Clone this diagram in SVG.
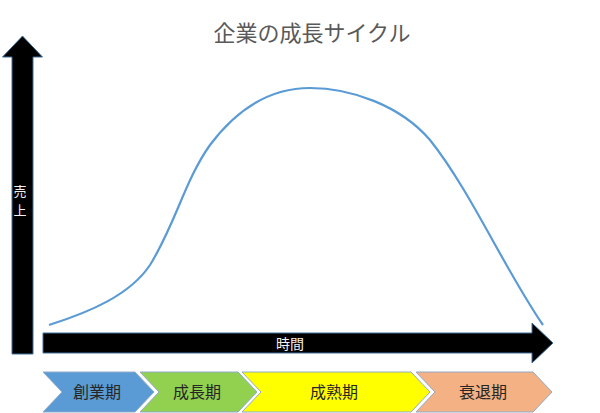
<svg xmlns="http://www.w3.org/2000/svg" width="600" height="413" viewBox="0 0 600 413">
<style>
text{font-family:"Noto Sans CJK JP","Noto Sans CJK SC",sans-serif;}
.axis{fill:#000;stroke:#41719C;stroke-width:1;}
.axlbl{fill:#F2F2F2;font-size:14px;text-anchor:middle;}
.vlbl{fill:#F2F2F2;font-size:13px;text-anchor:middle;}
.phase{stroke:#8FAAC8;stroke-width:1;}
.plbl{fill:#262626;font-size:16px;text-anchor:middle;}
</style>
<rect width="600" height="413" fill="#fff"/>
<g id="title"><text x="312" y="41" font-size="22" fill="#595959" text-anchor="middle">企業の成長サイクル</text></g>
<g id="y-axis">
<polygon class="axis" points="12,354 12,57 2.5,57 22.5,36 42.5,57 33,57 33,354"/>
<text class="vlbl" x="20" y="196">売</text>
<text class="vlbl" x="20" y="215">上</text>
</g>
<g id="x-axis">
<polygon class="axis" points="43,333 532,333 532,323 553,343 532,363 532,353 43,353"/>
<text class="axlbl" x="290" y="349">時間</text>
</g>
<g id="connectors">
<path d="M49,325 C90,312 130,295 150,265 C175,225 185,180 210,145 C240,105 275,88 310,88 C350,88 400,105 430,140 C470,190 505,270 543,325" fill="none" stroke="#5B9BD5" stroke-width="2.2"/>
</g>
<g id="phase-1"><polygon class="phase" fill="#5B9BD5" points="43,372 135,372 154,392 135,412 43,412 62,392"/><text class="plbl" x="97" y="398">創業期</text></g>
<g id="phase-2"><polygon class="phase" fill="#92D050" points="140,372 238,372 257,392 238,412 140,412 159,392"/><text class="plbl" x="197" y="398">成長期</text></g>
<g id="phase-3"><polygon class="phase" fill="#FFFF00" points="242,372 411,372 430,392 411,412 242,412 261,392"/><text class="plbl" x="334" y="398">成熟期</text></g>
<g id="phase-4"><polygon class="phase" fill="#F4B183" points="416,372 533,372 552,392 533,412 416,412 435,392"/><text class="plbl" x="483" y="398">衰退期</text></g>
</svg>
